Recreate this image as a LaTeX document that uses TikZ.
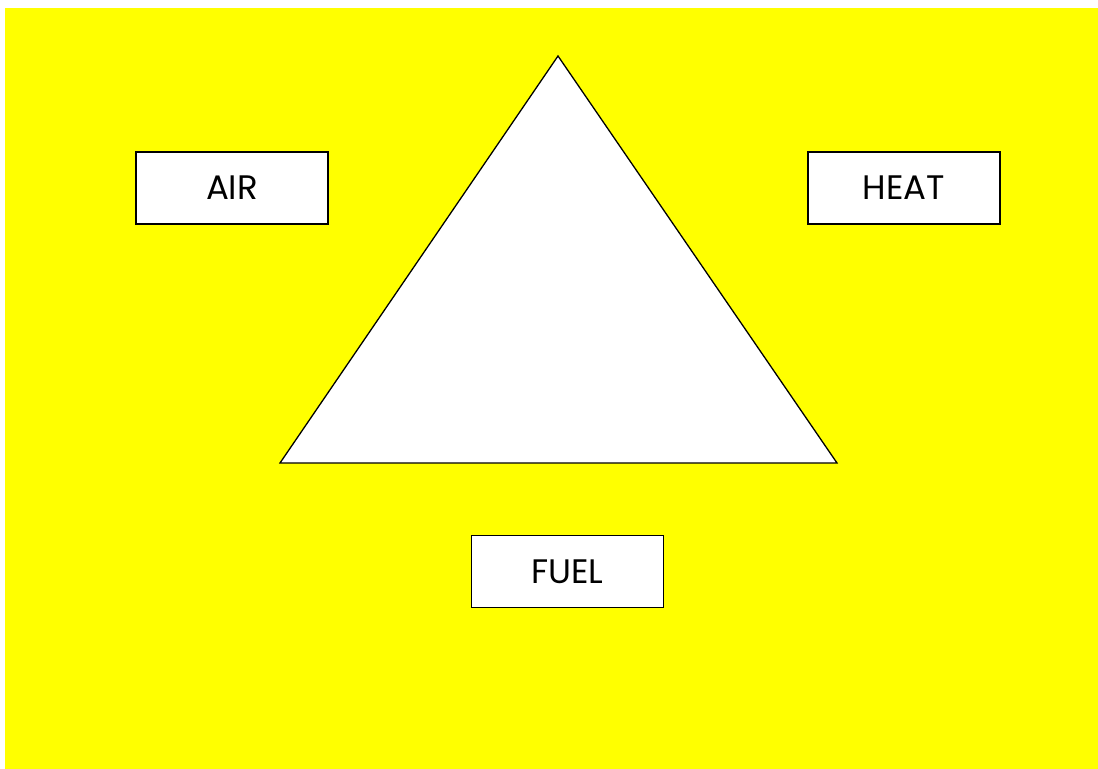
\documentclass[tikz,border=0pt]{standalone}
\usepackage{fontspec}
\setmainfont{Poppins}
\definecolor{fireyellow}{RGB}{255,255,0}
\tikzset{
  labelbox/.style={draw, line width=1.4pt, fill=white, minimum width=5.76cm, minimum height=2.16cm, inner sep=0pt, font=\fontsize{29}{34}\selectfont},
}
\begin{document}
\begin{tikzpicture}[x=0.03cm, y=-0.03cm]
                \useasboundingbox (0,0) rectangle (1098,769);
                \fill[fireyellow] (5,8) rectangle (1098,769);

                % Fire triangle
                \coordinate (apex) at (558,56);
                \coordinate (baseL) at (280,463);
                \coordinate (baseR) at (837,463);
                \draw[fill=white, line width=1.1pt, line join=miter] (apex) -- (baseR) -- (baseL) -- cycle;

                % Labels
                \node[labelbox] (air) at (232,188) {AIR};
                \node[labelbox] (heat) at (904,188) {HEAT};
                \node[labelbox] (fuel) at (567.5,571.5) {FUEL};
            \end{tikzpicture}
\end{document}
